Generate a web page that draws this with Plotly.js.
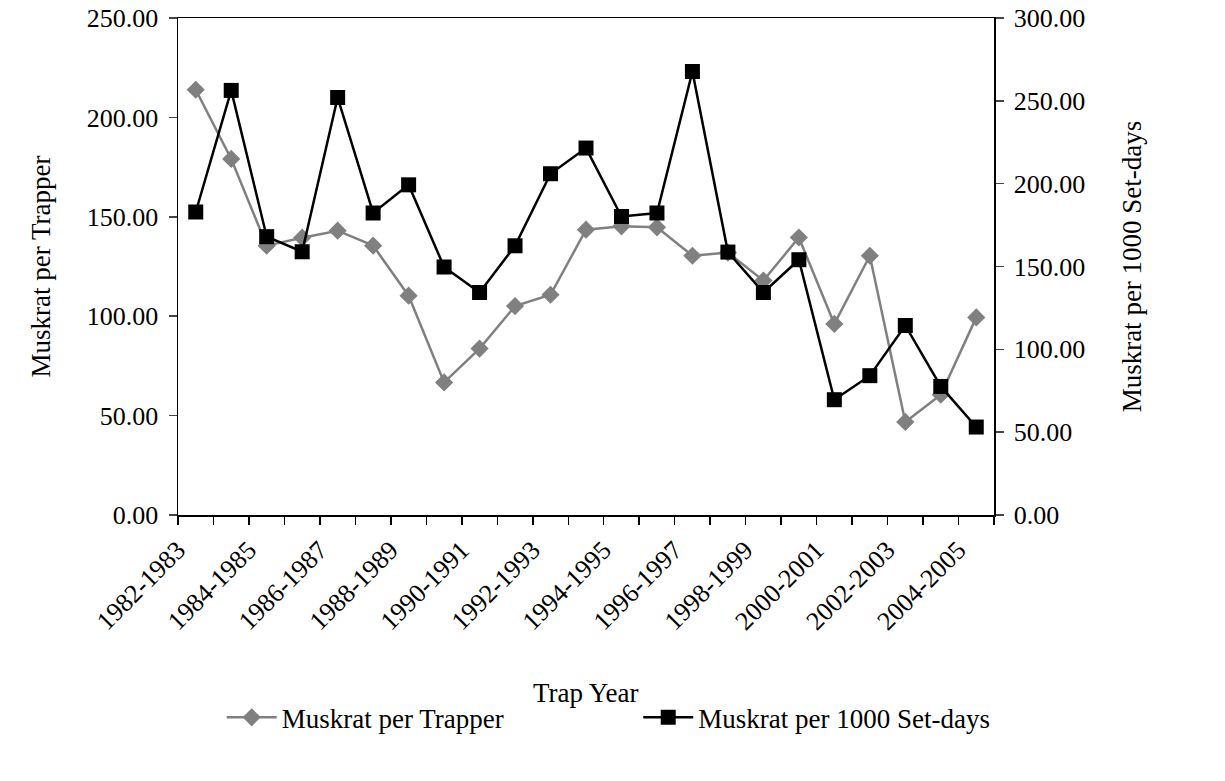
<!DOCTYPE html>
<html>
<head>
<meta charset="utf-8">
<script src="https://cdn.plot.ly/plotly-3.0.1.min.js"></script>
<style>html,body{margin:0;padding:0;background:#fff;}#chart{width:1225px;height:781px;}</style>
</head>
<body>
<div id="chart"></div>
<script>
const trapYears = ["1982-1983","1983-1984","1984-1985","1985-1986","1986-1987","1987-1988","1988-1989","1989-1990","1990-1991","1991-1992","1992-1993","1993-1994","1994-1995","1995-1996","1996-1997","1997-1998","1998-1999","1999-2000","2000-2001","2001-2002","2002-2003","2003-2004","2004-2005"];
const muskratPerTrapper = [213.9,179.1,135.5,139.5,143.0,135.5,110.3,66.7,83.7,105.1,110.8,143.5,145.2,144.7,130.4,132.0,117.9,139.6,96.1,130.4,46.8,60.5,99.4];
const muskratPer1000SetDays = [182.9,256.3,168.0,158.9,252.0,182.3,199.3,149.7,134.3,162.5,206.0,221.5,180.2,182.3,267.7,158.7,134.3,154.1,69.6,84.1,114.4,77.6,53.1];
const xAxisTitle = "Trap Year";
const labelEvery = 2;

const idx = trapYears.map((_, i) => i);
const tickIdx = idx.filter(i => i % labelEvery === 0);
const tickLbl = tickIdx.map(i => trapYears[i]);
const font = "Liberation Serif, Times New Roman, serif";

const traces = [
  {x: idx, y: muskratPerTrapper, name: "Muskrat per Trapper", type: "scatter", mode: "lines+markers",
   line: {color: "#808080", width: 2.5}, marker: {symbol: "diamond", size: 14, color: "#808080"}, yaxis: "y", legend: "legend"},
  {x: idx, y: muskratPer1000SetDays, name: "Muskrat per 1000 Set-days", type: "scatter", mode: "lines+markers",
   line: {color: "#000000", width: 2.5}, marker: {symbol: "square", size: 15, color: "#000000"}, yaxis: "y2", legend: "legend2"}
];

const legendBase = {orientation: "h", xref: "container", yref: "container", xanchor: "left", y: 0.081, yanchor: "middle",
                    font: {size: 27, family: font}, itemwidth: 50, bgcolor: "rgba(0,0,0,0)"};

const layout = {
  width: 1225, height: 781,
  margin: {l: 178, r: 231, t: 18, b: 266},
  paper_bgcolor: "#fff", plot_bgcolor: "#fff",
  font: {family: font, color: "#000", size: 26},
  showlegend: true,
  legend: Object.assign({}, legendBase, {x: 0.181}),
  legend2: Object.assign({}, legendBase, {x: 0.521}),
  annotations: [{text: xAxisTitle, xref: "paper", yref: "paper", x: 0.5, y: -0.358, xanchor: "center", yanchor: "middle",
                 showarrow: false, font: {size: 27, family: font, color: "#000"}}],
  xaxis: {type: "linear", range: [-0.5, trapYears.length - 0.5], tickmode: "array", tickvals: tickIdx, ticktext: tickLbl,
          tickangle: -45, ticks: "", showgrid: false, zeroline: false, showline: true, mirror: true, linecolor: "#000", linewidth: 1.5,
          tickfont: {size: 26, family: font}, ticklabelstandoff: 8, ticklabelshift: -18,
          minor: {tick0: -0.5, dtick: 1, ticks: "outside", ticklen: 8, tickcolor: "#000", tickwidth: 1.5, showgrid: false}},
  yaxis: {range: [0, 250], tickvals: [0,50,100,150,200,250], tickformat: ".2f", ticks: "outside", ticklen: 8, tickwidth: 1.5,
          showgrid: false, zeroline: false, showline: true, linecolor: "#000", linewidth: 1.5,
          tickfont: {size: 26, family: font}, ticklabelstandoff: 5,
          title: {text: "Muskrat per Trapper", font: {size: 27, family: font}, standoff: 28}},
  yaxis2: {range: [0, 300], tickvals: [0,50,100,150,200,250,300], tickformat: ".2f", overlaying: "y", side: "right",
           ticks: "outside", ticklen: 8, tickwidth: 1.5, showgrid: false, zeroline: false, showline: true, linecolor: "#000", linewidth: 1.5,
           tickfont: {size: 26, family: font}, ticklabelstandoff: 5,
           title: {text: "Muskrat per 1000 Set-days", font: {size: 27, family: font}, standoff: 38}}
};

Plotly.newPlot("chart", traces, layout, {displayModeBar: false, staticPlot: true});
</script>
</body>
</html>
